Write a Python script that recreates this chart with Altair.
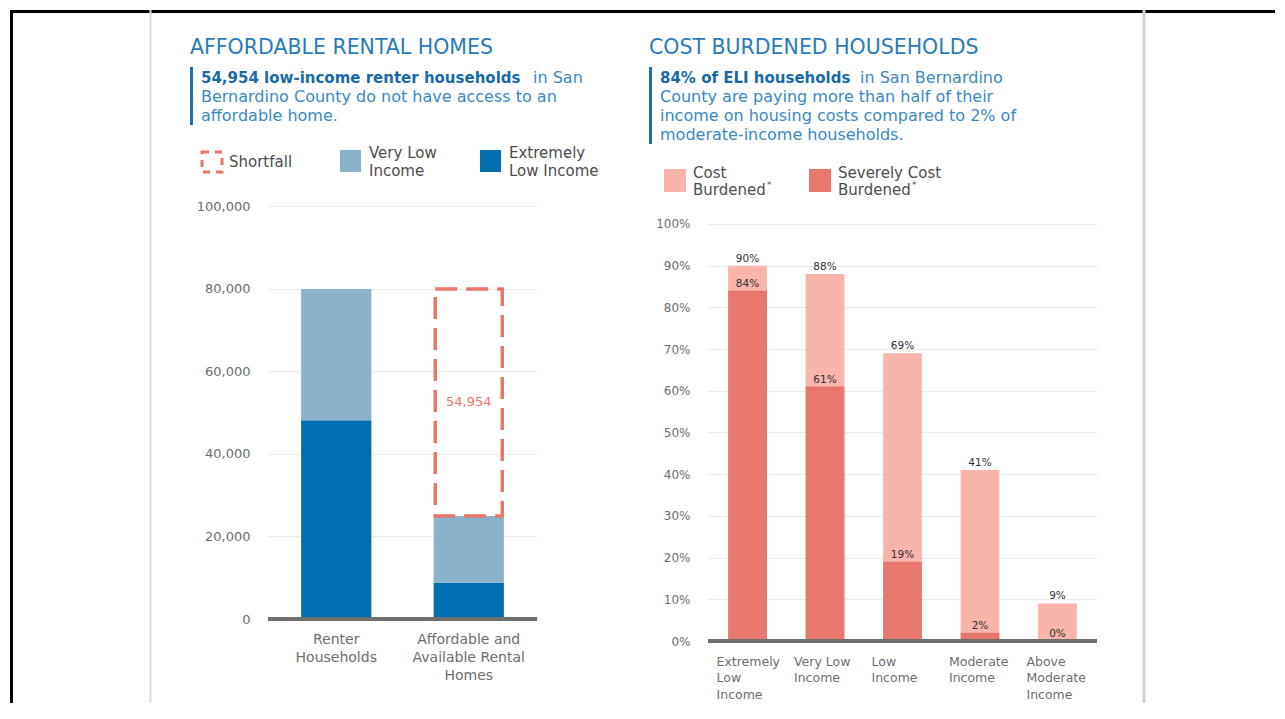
import altair as alt
import pandas as pd

# ---------------- data ----------------
rent_cats = ["Renter\nHouseholds", "Affordable and\nAvailable Rental\nHomes"]
eli_units = [48100, 8800]
vli_units = [31800, 16146]
shortfall_value = 54954

income_cats = ["Extremely\nLow\nIncome", "Very Low\nIncome", "Low\nIncome",
               "Moderate\nIncome", "Above\nModerate\nIncome"]
cost_burdened = [90, 88, 69, 41, 9]
severe_burdened = [84, 61, 19, 2, 0]

left_ticks = [0, 20000, 40000, 60000, 80000, 100000]
right_ticks = [0, 10, 20, 30, 40, 50, 60, 70, 80, 90, 100]

# ---------------- style ----------------
FONT = "DejaVu Sans"
AX_GRAY = "#6e6e6e"
LEG_TXT = "#4d4d4d"
TITLE_BLUE = "#2b7bbb"
SUB_BOLD = "#1a69a9"
SUB_REG = "#3b88c3"
BAR_BLUE = "#1d70b0"
SALMON = "#e9756d"
ELI_C = "#006eb0"
VLI_C = "#8ab2cb"
CB_LIGHT = "#f9b4ac"
CB_DARK = "#e8786e"
GRID = "#ebebeb"
BASE = "#6f6f6f"

ONE = alt.Data(values=[{"k": 1}])


def txt(s, x, y, size, color, weight="normal", align="left", baseline="middle"):
    return alt.Chart(ONE).mark_text(
        text=s, font=FONT, fontSize=size, color=color, fontWeight=weight,
        align=align, baseline=baseline
    ).encode(x=alt.value(x), y=alt.value(y))


def rule(x, x2, y, y2, color, w):
    return alt.Chart(ONE).mark_rule(color=color, strokeWidth=w).encode(
        x=alt.value(x), x2=alt.value(x2), y=alt.value(y), y2=alt.value(y2))


def box(x, x2, y, y2, **kw):
    return alt.Chart(ONE).mark_rect(**kw).encode(
        x=alt.value(x), x2=alt.value(x2), y=alt.value(y), y2=alt.value(y2))


# ---------------- left panel ----------------
rows = []
for c, e, v in zip(rent_cats, eli_units, vli_units):
    rows.append({"cat": c, "grp": "Extremely Low Income", "y0": 0, "y1": e})
    rows.append({"cat": c, "grp": "Very Low Income", "y0": e, "y1": e + v})
left_df = pd.DataFrame(rows)
totals = [e + v for e, v in zip(eli_units, vli_units)]
short_df = pd.DataFrame({
    "cat": [rent_cats[1]],
    "lo": [totals[1]],
    "hi": [totals[1] + shortfall_value],
    "mid": [totals[1] + shortfall_value / 2],
    "label": [f"{shortfall_value:,}"],
})

xL = alt.X("cat:N", sort=rent_cats,
           scale=alt.Scale(paddingInner=0.47, paddingOuter=0.25),
           axis=alt.Axis(title=None, labelExpr="split(datum.label, '\\n')", labelAngle=0,
                         labelFont=FONT, labelFontSize=14, labelColor=AX_GRAY,
                         labelLineHeight=18, labelPadding=13, ticks=False, tickSize=0,
                         domain=False, grid=False))
yL_scale = alt.Scale(domain=[0, 100000], nice=False)

left_bars = alt.Chart(left_df).mark_bar().encode(
    x=xL,
    y=alt.Y("y0:Q", scale=yL_scale,
            axis=alt.Axis(title=None, values=left_ticks, format=",d", labelFont=FONT,
                          labelFontSize=13, labelColor=AX_GRAY, labelPadding=18,
                          ticks=False, tickSize=0, domain=False, grid=True,
                          gridColor=GRID, gridWidth=1)),
    y2="y1:Q",
    color=alt.Color("grp:N", scale=alt.Scale(domain=["Extremely Low Income", "Very Low Income"],
                                             range=[ELI_C, VLI_C]), legend=None),
)
short_box = alt.Chart(short_df).mark_bar(
    fill="transparent", stroke=SALMON, strokeWidth=3.5, strokeDash=[22, 9], width=67
).encode(x=alt.X("cat:N", sort=rent_cats), y=alt.Y("lo:Q", scale=yL_scale), y2="hi:Q")
short_txt = alt.Chart(short_df).mark_text(
    font=FONT, fontSize=13, color=SALMON
).encode(x=alt.X("cat:N", sort=rent_cats), y=alt.Y("mid:Q", scale=yL_scale), text="label:N")
left_base = alt.Chart(ONE).mark_rule(color=BASE, strokeWidth=4).encode(y=alt.datum(0))

left_deco = [
    rule(-256.5, -256.5, -196, 497, "#000000", 3),
    rule(-258, 1007, -194.5, -194.5, "#000000", 3),
    rule(-117.5, -117.5, -196, 497, "#dadada", 2),
    txt("AFFORDABLE RENTAL HOMES", -78, -158.5, 20.5, TITLE_BLUE),
    rule(-76.5, -76.5, -139, -81, BAR_BLUE, 3),
    txt("54,954 low-income renter households", -67, -128, 15, SUB_BOLD, weight="bold"),
    txt("in San", 265, -128, 16, SUB_REG),
    txt("Bernardino County do not have access to an", -67, -109, 16, SUB_REG),
    txt("affordable home.", -67, -90, 16, SUB_REG),
    box(-66, -46, -54, -34, fill="transparent", stroke=SALMON, strokeWidth=3, strokeDash=[7, 6]),
    txt("Shortfall", -39, -44, 15, LEG_TXT),
    box(72, 93, -56, -34, fill=VLI_C),
    txt("Very Low", 101, -53, 15, LEG_TXT),
    txt("Income", 101, -35, 15, LEG_TXT),
    box(212, 233, -56, -34, fill=ELI_C),
    txt("Extremely", 241, -53, 15, LEG_TXT),
    txt("Low Income", 241, -35, 15, LEG_TXT),
]

left = alt.layer(*left_deco, left_bars, short_box, short_txt, left_base).properties(
    width=269, height=413)

# ---------------- right panel ----------------
right_df = pd.DataFrame({"cat": income_cats, "cb": cost_burdened, "sev": severe_burdened})
right_df["cb_lab"] = right_df["cb"].astype(str) + "%"
right_df["sev_lab"] = right_df["sev"].astype(str) + "%"

xR = alt.X("cat:N", sort=income_cats,
           scale=alt.Scale(paddingInner=0.5, paddingOuter=0.26),
           axis=alt.Axis(title=None, labelExpr="split(datum.label, '\\n')", labelAngle=0,
                         labelFont=FONT, labelFontSize=12.5, labelColor=AX_GRAY,
                         labelAlign="left", labelOffset=-31,
                         labelLineHeight=16.5, labelPadding=14, ticks=False, tickSize=0,
                         domain=False, grid=False))
yR_scale = alt.Scale(domain=[0, 104.3], nice=False)

cb_bars = alt.Chart(right_df).mark_bar(color=CB_LIGHT).encode(
    x=xR,
    y=alt.Y("cb:Q", scale=yR_scale,
            axis=alt.Axis(title=None, values=right_ticks, labelExpr="datum.value + '%'",
                          labelFont=FONT, labelFontSize=12, labelColor=AX_GRAY,
                          labelPadding=18, ticks=False, tickSize=0, domain=False,
                          grid=True, gridColor=GRID, gridWidth=1)),
)
sev_bars = alt.Chart(right_df).mark_bar(color=CB_DARK).encode(
    x=alt.X("cat:N", sort=income_cats), y=alt.Y("sev:Q", scale=yR_scale))
cb_txt = alt.Chart(right_df).mark_text(
    font=FONT, fontSize=10.5, color="#333333", baseline="bottom", dy=-2
).encode(x=alt.X("cat:N", sort=income_cats), y=alt.Y("cb:Q", scale=yR_scale), text="cb_lab:N")
sev_txt = alt.Chart(right_df).mark_text(
    font=FONT, fontSize=10.5, color="#333333", baseline="bottom", dy=-2
).encode(x=alt.X("cat:N", sort=income_cats), y=alt.Y("sev:Q", scale=yR_scale), text="sev_lab:N")
right_base = alt.Chart(ONE).mark_rule(color=BASE, strokeWidth=4).encode(y=alt.datum(0))

right_deco = [
    rule(436, 436, -196, 497, "#d0d0d0", 3),
    txt("COST BURDENED HOUSEHOLDS", -59, -158.5, 20.5, TITLE_BLUE),
    rule(-57.5, -57.5, -139, -62, BAR_BLUE, 3),
    txt("84% of ELI households", -48, -128, 15, SUB_BOLD, weight="bold"),
    txt("in San Bernardino", 152, -128, 16, SUB_REG),
    txt("County are paying more than half of their", -48, -109, 16, SUB_REG),
    txt("income on housing costs compared to 2% of", -48, -90, 16, SUB_REG),
    txt("moderate-income households.", -48, -71, 16, SUB_REG),
    box(-44, -22, -37, -14, fill=CB_LIGHT),
    txt("Cost", -15, -33, 15, LEG_TXT),
    txt("Burdened", -15, -16, 15, LEG_TXT),
    txt("*", 59, -21, 9, LEG_TXT),
    box(101, 123, -37, -14, fill=CB_DARK),
    txt("Severely Cost", 130, -33, 15, LEG_TXT),
    txt("Burdened", 130, -16, 15, LEG_TXT),
    txt("*", 204, -21, 9, LEG_TXT),
]

right = alt.layer(*right_deco, cb_bars, sev_bars, cb_txt, sev_txt, right_base).properties(
    width=389, height=435)

chart = alt.hconcat(left, right, spacing=171, bounds="flush", padding=0,
                    background="white").configure_view(strokeWidth=0)

chart.save("out.html", embed_options={"renderer": "svg", "actions": False})
